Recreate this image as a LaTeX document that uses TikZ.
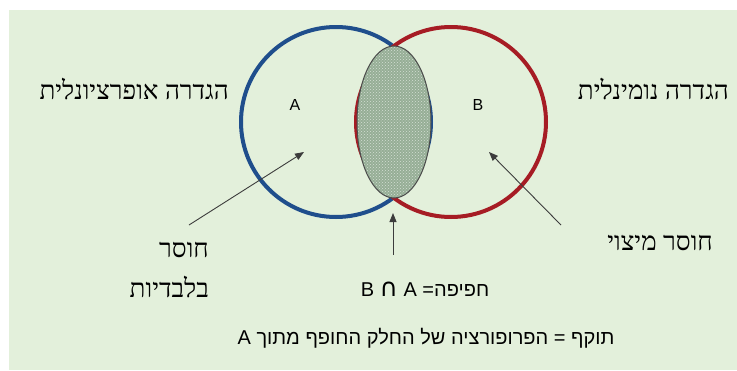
\documentclass[tikz,border=0pt]{standalone}
\usepackage{fontspec}
\setmainfont{Liberation Sans}
\newfontfamily\hebserif[Script=Hebrew]{Liberation Serif}
\newfontfamily\hebsans[Script=Hebrew]{Liberation Sans}
\newfontfamily\symfont[Scale=1.25]{DejaVu Sans}
\TeXXeTstate=1
\usetikzlibrary{arrows.meta,patterns}
\definecolor{bggreen}{RGB}{227,240,219}
\definecolor{ringblue}{RGB}{31,78,140}
\definecolor{ringred}{RGB}{166,28,36}
\definecolor{lensfill}{RGB}{150,174,150}
\definecolor{arrowgray}{RGB}{60,60,60}
\tikzset{
  ring/.style={line width=4pt},
  bigheb/.style={font=\hebserif\fontsize{26}{30}\selectfont, inner sep=0pt},
  smallheb/.style={font=\hebsans\fontsize{20}{24}\selectfont, inner sep=0pt},
  setlabel/.style={font=\hebsans\fontsize{16}{19}\selectfont, inner sep=0pt},
  pointer/.style={draw=arrowgray, line width=0.9pt, -{Triangle[length=9pt,width=7pt]}}
}
\begin{document}
\begin{tikzpicture}[x=1pt,y=-1pt]
\useasboundingbox (0,0) rectangle (737,370);
\fill[white] (0,0) rectangle (737,370);
\fill[bggreen] (9,10) rectangle (737,370);
% circles
\draw[ring, ringblue] (336,122) circle (95);
\draw[ring, ringred] (451,122) circle (95);
% lens
\filldraw[draw=black!70, line width=1pt, fill=lensfill] (394,122) ellipse (37 and 76);
\fill[pattern=crosshatch dots, pattern color=white!60!lensfill] (394,122) ellipse (36 and 75);
% set labels
\node[setlabel] (A) at (295,105) {A};
\node[setlabel] (B) at (478,105) {B};
% side headings
\node[bigheb, anchor=east] (oper) at (229,89) {\beginR הגדרה אופרציונלית\endR};
\node[bigheb, anchor=east] (nomi) at (729,89) {\beginR הגדרה נומינלית\endR};
% lacks
\node[bigheb, anchor=east] (hoserL1) at (209,250) {\beginR חוסר\endR};
\node[bigheb, anchor=east] (hoserL2) at (209,287) {\beginR בלבדיות\endR};
\node[bigheb, anchor=east] (hoserR) at (713,243) {\beginR חוסר מיצוי\endR};
% targets
\coordinate (tA) at (304,152);
\coordinate (tB) at (489,152);
\coordinate (tI) at (393,213);
\coordinate (sA) at (189,225);
\coordinate (sB) at (561,225);
\coordinate (sI) at (393,255);
\draw[pointer] (sA) -- (tA);
\draw[pointer] (sB) -- (tB);
\draw[pointer] (sI) -- (tI);
% bottom formulas
\node[smallheb] (overlap) at (425,289) {B {\symfont ∩} A =\beginR חפיפה\endR};
\node[smallheb] (validity) at (426,338) {\beginR תוקף = הפרופורציה של החלק החופף מתוך A\endR};
\end{tikzpicture}
\end{document}
